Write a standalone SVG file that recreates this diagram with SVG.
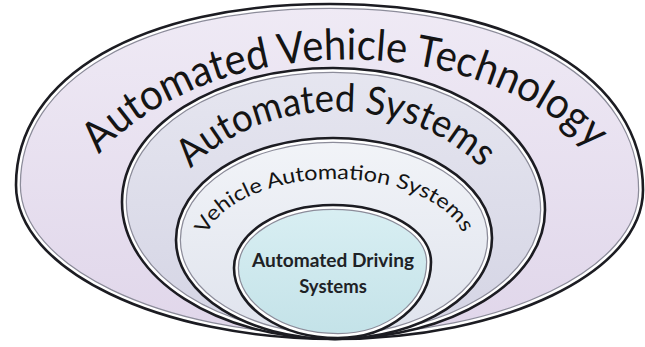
<svg xmlns="http://www.w3.org/2000/svg" xmlns:xlink="http://www.w3.org/1999/xlink" width="645" height="347" viewBox="0 0 645 347">
  <defs>
    <!-- egg-shaped outlines: left, top, right, bottom quarter curves -->
    <path id="shape-avt" d="M16,185 C16,76 141.6,4 330,4 C517.8,4 643,78.4 643,190 C643,272 504.4,339 335,339 C159.5,339 16,269.7 16,185 Z"/>
    <path id="shape-as" d="M122,202 C122,127 216.5,68 333,68 C450,68 545,131.6 545,210 C545,281.2 450.9,339 335,339 C217.4,339 122,277.7 122,202 Z"/>
    <path id="shape-vas" d="M176,240 C176,183.7 246.3,138 333,138 C420.8,138 492,182.8 492,238 C492,293.8 421.7,339 335,339 C247.2,339 176,294.6 176,240 Z"/>
    <path id="shape-ads" d="M234,268 C234,233.2 278.4,205 333,205 C387.1,205 431,230.5 431,262 C431,304 389.3,338 338,338 C280.6,338 234,306.6 234,268 Z"/>

    <clipPath id="clip-avt"><use href="#shape-avt"/></clipPath>
    <clipPath id="clip-as"><use href="#shape-as"/></clipPath>
    <clipPath id="clip-vas"><use href="#shape-vas"/></clipPath>
    <clipPath id="clip-ads"><use href="#shape-ads"/></clipPath>

    <linearGradient id="g-avt" x1="0" y1="0" x2="0" y2="1">
      <stop offset="0" stop-color="#efeaf5"/>
      <stop offset="1" stop-color="#e0d6ea"/>
    </linearGradient>
    <linearGradient id="g-as" x1="0" y1="0" x2="0" y2="1">
      <stop offset="0" stop-color="#e6e6f0"/>
      <stop offset="1" stop-color="#d4d4e4"/>
    </linearGradient>
    <linearGradient id="g-vas" x1="0" y1="0" x2="0" y2="1">
      <stop offset="0" stop-color="#f2f4f8"/>
      <stop offset="1" stop-color="#dfe3ed"/>
    </linearGradient>
    <linearGradient id="g-ads" x1="0" y1="0" x2="0" y2="1">
      <stop offset="0" stop-color="#d9eff3"/>
      <stop offset="1" stop-color="#c3e2e8"/>
    </linearGradient>

    <!-- baselines for the curved labels -->
    <path id="tp-avt" d="M97,157 A292,200 0 0 1 594,152"/>
    <path id="tp-as" d="M187,173 A185,150 0 0 1 485,172"/>
    <path id="tp-vas" d="M203,252 A132,72 0 0 1 467,250"/>

    <style>
      .bevel-grey { fill: none; stroke: #8c8c9a; stroke-width: 10; }
      .bevel-white { fill: none; stroke: #ffffff; stroke-width: 7.5; }
      .rim { fill: none; stroke: #1c1c22; stroke-width: 2.6; }
      .lbl { font-family: Lato, "Open Sans", "Liberation Sans", sans-serif; fill: #141414; }
      .l1 { font-size: 43px; }
      .l2 { font-size: 39px; }
      .l3 { font-size: 20.5px; }
      .l4 { font-size: 18.5px; font-weight: bold; fill: #1e2226; }
    </style>
  </defs>

  <rect width="645" height="347" fill="#ffffff"/>

  <g id="node-automated-vehicle-technology">
    <use href="#shape-avt" fill="url(#g-avt)"/>
    <g clip-path="url(#clip-avt)">
      <use href="#shape-avt" class="bevel-grey"/>
      <use href="#shape-avt" class="bevel-white"/>
    </g>
    <use href="#shape-avt" class="rim"/>
    <text class="lbl l1"><textPath href="#tp-avt" startOffset="50%" text-anchor="middle" textLength="540" lengthAdjust="spacingAndGlyphs">Automated Vehicle Technology</textPath></text>
  </g>

  <g id="node-automated-systems">
    <use href="#shape-as" fill="url(#g-as)"/>
    <g clip-path="url(#clip-as)">
      <use href="#shape-as" class="bevel-grey"/>
      <use href="#shape-as" class="bevel-white"/>
    </g>
    <use href="#shape-as" class="rim"/>
    <text class="lbl l2"><textPath href="#tp-as" startOffset="50%" text-anchor="middle" textLength="320" lengthAdjust="spacingAndGlyphs">Automated Systems</textPath></text>
  </g>

  <g id="node-vehicle-automation-systems">
    <use href="#shape-vas" fill="url(#g-vas)"/>
    <g clip-path="url(#clip-vas)">
      <use href="#shape-vas" class="bevel-grey"/>
      <use href="#shape-vas" class="bevel-white"/>
    </g>
    <use href="#shape-vas" class="rim"/>
    <text class="lbl l3"><textPath href="#tp-vas" startOffset="50%" text-anchor="middle" textLength="292" lengthAdjust="spacingAndGlyphs">Vehicle Automation Systems</textPath></text>
  </g>

  <g id="node-automated-driving-systems">
    <use href="#shape-ads" fill="url(#g-ads)"/>
    <g clip-path="url(#clip-ads)">
      <use href="#shape-ads" class="bevel-grey"/>
      <use href="#shape-ads" class="bevel-white"/>
    </g>
    <use href="#shape-ads" class="rim"/>
    <text class="lbl l4" x="333" y="267" text-anchor="middle" textLength="162" lengthAdjust="spacingAndGlyphs">Automated Driving</text>
    <text class="lbl l4" x="333" y="293" text-anchor="middle">Systems</text>
  </g>

  <g id="connectors"/>
</svg>
